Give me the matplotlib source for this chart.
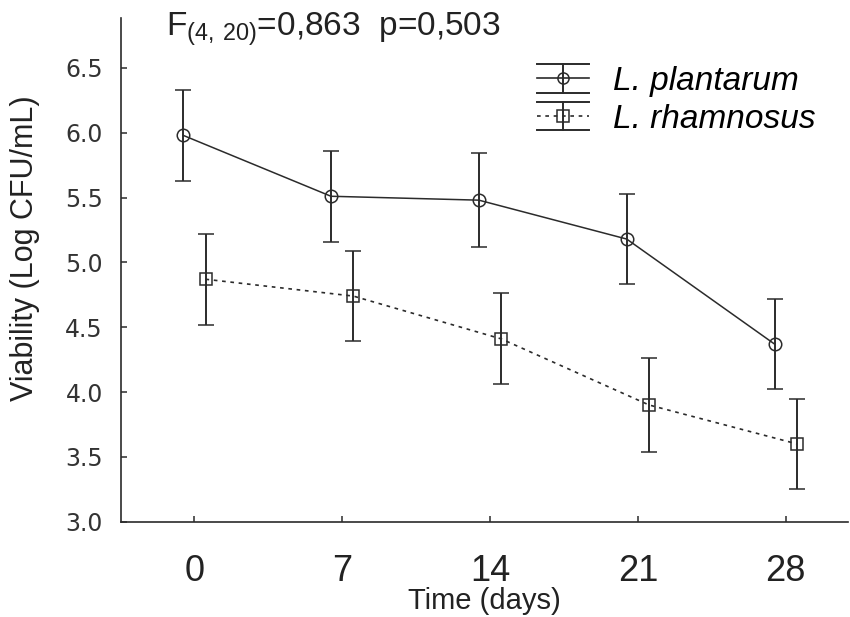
import matplotlib
matplotlib.use('Agg')
import matplotlib.pyplot as plt
from matplotlib.legend_handler import HandlerBase
from matplotlib.lines import Line2D

days = [0, 7, 14, 21, 28]
plantarum = [5.98, 5.51, 5.48, 5.18, 4.37]
plantarum_err = [0.35, 0.35, 0.36, 0.35, 0.35]
rhamnosus = [4.87, 4.74, 4.41, 3.90, 3.60]
rhamnosus_err = [0.35, 0.35, 0.35, 0.36, 0.35]
labels = ['L. plantarum', 'L. rhamnosus']
title = r'F$_{(4,\,20)}$=0,863  p=0,503'

ink = '#2b2b2b'
shift = 0.53

plt.rcParams['font.family'] = ['Liberation Sans', 'DejaVu Sans']
plt.rcParams['mathtext.default'] = 'regular'


class CapHandler(HandlerBase):
    def __init__(self, ls):
        super().__init__()
        self.ls = ls

    def create_artists(self, legend, orig_handle, xdescent, ydescent, width, height, fontsize, trans):
        data_line = orig_handle.lines[0]
        x0, x1 = -xdescent, -xdescent + width
        yc = -ydescent + height / 2
        half = 0.43 * fontsize
        xm = (x0 + x1) / 2
        out = []
        for y in (yc - half, yc + half):
            out.append(Line2D([x0, x1], [y, y], color=ink, lw=1.4, transform=trans))
        out.append(Line2D([xm, xm], [yc - half, yc + half], color=ink, lw=1.4, transform=trans))
        out.append(Line2D([x0, x1], [yc, yc], color=ink, lw=1.2, linestyle=self.ls, transform=trans))
        out.append(Line2D([xm], [yc], marker=data_line.get_marker(), ms=8, mfc='none', mec=ink,
                          mew=1.1, linestyle='none', transform=trans))
        return out


fig = plt.figure(figsize=(8.5, 6.17), dpi=100)
ax = fig.add_axes([0.1424, 0.1545, 0.8553, 0.8159])

x1 = [d - shift for d in days]
x2 = [d + shift for d in days]
ls1 = '-'
ls2 = (0, (2.2, 2.8))
e1 = ax.errorbar(x1, plantarum, yerr=plantarum_err, color=ink, lw=1.1, ls=ls1, marker='o', ms=9,
                 mfc='none', mec=ink, mew=1.1, elinewidth=1.4, capsize=6, capthick=1.4)
e2 = ax.errorbar(x2, rhamnosus, yerr=rhamnosus_err, color=ink, lw=1.2, ls=ls2, marker='s', ms=8,
                 mfc='none', mec=ink, mew=1.1, elinewidth=1.4, capsize=6, capthick=1.4)

ax.set_xlim(-3.47, 30.95)
ax.set_ylim(3.0, 6.883)
ax.set_xticks(days)
ax.set_yticks([3.0, 3.5, 4.0, 4.5, 5.0, 5.5, 6.0, 6.5])
ax.set_yticklabels(['3.0', '3.5', '4.0', '4.5', '5.0', '5.5', '6.0', '6.5'])
for s in ['top', 'right']:
    ax.spines[s].set_visible(False)
for s in ['left', 'bottom']:
    ax.spines[s].set_color(ink)
    ax.spines[s].set_linewidth(1.2)

ax.tick_params(axis='y', direction='in', length=4, width=1.1, color=ink, pad=13,
               labelsize=17, labelcolor='#333333', labelfontfamily='DejaVu Sans')
ax.tick_params(axis='x', direction='in', length=4, width=1.1, color=ink, pad=23,
               labelsize=26, labelcolor='#222222')

ax.set_xlabel('Time (days)', fontsize=21, color='#222222', labelpad=-1)
ax.set_ylabel('Viability (Log CFU/mL)', fontsize=22, color='#222222')
ax.yaxis.set_label_coords(-0.112, 0.544)

fig.text(166 / 850, 1 - 36 / 617, title, fontsize=24, color='#222222', va='baseline')

ax.legend([e1, e2], labels, handler_map={e1: CapHandler(ls1), e2: CapHandler(ls2)},
          loc='upper left', bbox_to_anchor=(537 / 850, 1 - 66 / 617), bbox_transform=fig.transFigure,
          frameon=False, borderpad=0, borderaxespad=0, handlelength=1.55, handletextpad=0.72,
          labelspacing=0.2, prop={'size': 24, 'style': 'italic'})

fig.savefig('out.png', dpi=100)
